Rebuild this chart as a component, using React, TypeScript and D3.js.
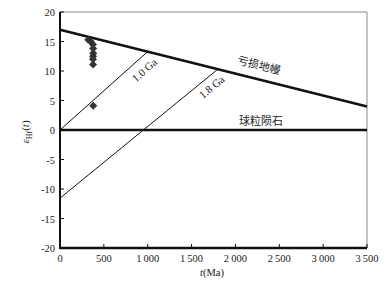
import React from "react";
import * as d3 from "d3";

const xTicks = [0, 500, 1000, 1500, 2000, 2500, 3000, 3500];
const yTicks = [-20, -15, -10, -5, 0, 5, 10, 15, 20];
const sampleT = [322, 350, 376, 378, 379, 377, 376, 377, 379];
const sampleEps = [15.3, 15.0, 14.5, 13.8, 13.0, 12.5, 12.0, 11.1, 4.1];
const dmT = [0, 3500];
const dmEps = [17, 4];
const churT = [0, 3500];
const churEps = [0, 0];
const ga10T = [0, 1000];
const ga10Eps = [0, 13.29];
const ga18T = [0, 1800];
const ga18Eps = [-11.55, 10.31];

const W = 392, H = 287;
const L = 60, R = 367, T = 12, B = 248;

const fmt = (v: number) => {
  const s = String(Math.abs(v));
  const out = s.length > 3 ? s.slice(0, s.length - 3) + "\u2009" + s.slice(s.length - 3) : s;
  return (v < 0 ? "-" : "") + out;
};

export default function App() {
  const x = d3.scaleLinear().domain([0, 3500]).range([L, R]);
  const y = d3.scaleLinear().domain([-20, 20]).range([B, T]);
  const line = d3.line<[number, number]>().x((d) => x(d[0])).y((d) => y(d[1]));
  const pts = (ts: number[], es: number[]) => ts.map((t, i) => [t, es[i]] as [number, number]);
  const serif = "'Liberation Serif', 'DejaVu Serif', serif";
  const cjk = "'Noto Sans CJK SC', sans-serif";
  const ang = (ts: number[], es: number[]) =>
    (Math.atan2(y(es[1]) - y(es[0]), x(ts[1]) - x(ts[0])) * 180) / Math.PI;
  const sq = d3.symbol().type(d3.symbolSquare).size(32)();

  return (
    <svg width={W} height={H} style={{ position: "absolute", left: 0, top: 0, background: "#fff" }}>
      <rect x={0} y={0} width={W} height={H} fill="#fff" />
      {/* frame */}
      <line x1={L} y1={T} x2={R} y2={T} stroke="#888" strokeWidth={1} />
      <line x1={R} y1={T} x2={R} y2={B} stroke="#888" strokeWidth={1} />
      {/* lines */}
      <path d={line(pts(ga10T, ga10Eps)) || ""} stroke="#111" strokeWidth={1} fill="none" />
      <path d={line(pts(ga18T, ga18Eps)) || ""} stroke="#111" strokeWidth={1} fill="none" />
      <path d={line(pts(dmT, dmEps)) || ""} stroke="#111" strokeWidth={2.6} fill="none" />
      <path d={line(pts(churT, churEps)) || ""} stroke="#111" strokeWidth={2.6} fill="none" />
      {/* axes */}
      <line x1={L} y1={T} x2={L} y2={B + 1} stroke="#111" strokeWidth={2} />
      <line x1={L - 1} y1={B} x2={R} y2={B} stroke="#111" strokeWidth={2.5} />
      {xTicks.map((t) => (
        <g key={"x" + t}>
          <line x1={x(t)} x2={x(t)} y1={B} y2={B - 4} stroke="#111" strokeWidth={1} />
          <text x={x(t)} y={B + 14} textAnchor="middle" fontFamily={serif} fontSize={10.5} fill="#222">
            {fmt(t)}
          </text>
        </g>
      ))}
      {yTicks.map((v) => (
        <g key={"y" + v}>
          <line x1={L} x2={L + 4} y1={y(v)} y2={y(v)} stroke="#111" strokeWidth={1} />
          <text x={L - 5} y={y(v) + 4} textAnchor="end" fontFamily={serif} fontSize={10.5} fill="#222">
            {fmt(v)}
          </text>
        </g>
      ))}
      {/* axis titles */}
      <text x={212} y={276} textAnchor="middle" fontFamily={serif} fontSize={10.5} fill="#222">
        <tspan fontStyle="italic">t</tspan>(Ma)
      </text>
      <text transform={`translate(29,132) rotate(-90)`} textAnchor="middle" fontFamily={serif} fontSize={11} fill="#222">
        <tspan fontStyle="italic">ε</tspan>
        <tspan fontSize={8} dy={3}>Hf</tspan>
        <tspan dy={-3}>(</tspan>
        <tspan fontStyle="italic">t</tspan>)
      </text>
      {/* samples */}
      {sampleT.map((t, i) => (
        <path key={"s" + i} d={sq || ""} transform={`translate(${x(t)},${y(sampleEps[i])}) rotate(45)`} fill="#333" />
      ))}
      {/* labels */}
      <text transform={`translate(147,73) rotate(${ang(ga10T, ga10Eps)})`} textAnchor="middle" fontFamily={serif} fontSize={11} fill="#222">
        1.0 Ga
      </text>
      <text transform={`translate(214,90) rotate(${ang(ga18T, ga18Eps)})`} textAnchor="middle" fontFamily={serif} fontSize={11} fill="#222">
        1.8 Ga
      </text>
      <text transform={`translate(258,69) rotate(${ang(dmT, dmEps)})`} textAnchor="middle" fontFamily={cjk} fontSize={11} fill="#222">
        亏损地幔
      </text>
      <text x={261} y={125} textAnchor="middle" fontFamily={cjk} fontSize={11} fill="#222">
        球粒陨石
      </text>
    </svg>
  );
}
